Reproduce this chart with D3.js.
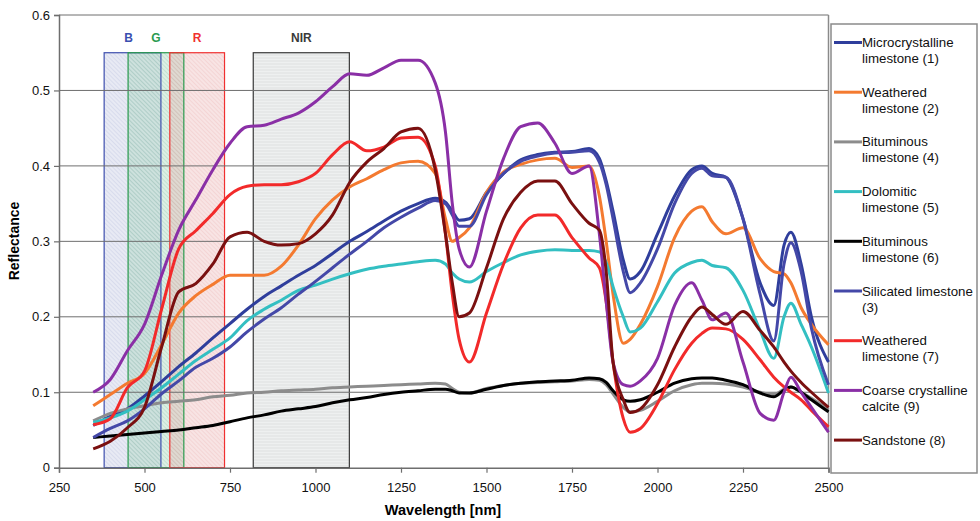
<!DOCTYPE html>
<html>
<head>
<meta charset="utf-8">
<script src="https://cdn.jsdelivr.net/npm/d3@7"></script>
<style>
  body { margin: 0; background: #fff; }
  text { font-family: "Liberation Sans", Arial, sans-serif; }
</style>
</head>
<body>
<div id="chart"></div>
<script>
const width = 980;
const height = 521;

// wavelength grid (nm)
const wavelengths = [350, 400, 450, 500, 550, 600, 650, 700, 750, 800, 850, 900, 950, 1000, 1050, 1100, 1150, 1200, 1250, 1300, 1350, 1380, 1400, 1420, 1450, 1500, 1550, 1600, 1650, 1700, 1750, 1800, 1830, 1850, 1870, 1900, 1920, 1950, 2000, 2050, 2100, 2130, 2160, 2200, 2250, 2300, 2340, 2370, 2390, 2420, 2450, 2500];

const microcrystalline1 = [0.056, 0.068, 0.078, 0.095, 0.114, 0.134, 0.152, 0.172, 0.191, 0.21, 0.227, 0.241, 0.255, 0.268, 0.284, 0.3, 0.313, 0.327, 0.34, 0.35, 0.357, 0.352, 0.34, 0.328, 0.33, 0.365, 0.39, 0.408, 0.415, 0.418, 0.419, 0.423, 0.41, 0.38, 0.34, 0.275, 0.25, 0.26, 0.31, 0.36, 0.395, 0.4, 0.39, 0.385, 0.33, 0.245, 0.215, 0.295, 0.312, 0.27, 0.2, 0.14];
const weathered2 = [0.082, 0.097, 0.112, 0.125, 0.163, 0.205, 0.228, 0.243, 0.255, 0.255, 0.255, 0.267, 0.295, 0.33, 0.355, 0.372, 0.383, 0.395, 0.404, 0.406, 0.39, 0.33, 0.3, 0.305, 0.318, 0.365, 0.392, 0.402, 0.408, 0.41, 0.398, 0.4, 0.36, 0.3, 0.23, 0.165, 0.17, 0.19, 0.24, 0.305, 0.34, 0.346, 0.326, 0.31, 0.318, 0.277, 0.26, 0.257, 0.245, 0.212, 0.19, 0.163];
const bituminous4 = [0.062, 0.072, 0.078, 0.082, 0.086, 0.088, 0.09, 0.094, 0.096, 0.099, 0.1, 0.102, 0.103, 0.104, 0.106, 0.107, 0.108, 0.109, 0.11, 0.111, 0.112, 0.111, 0.105, 0.1, 0.099, 0.105, 0.109, 0.112, 0.113, 0.114, 0.115, 0.117, 0.116, 0.11, 0.098, 0.08, 0.074, 0.076, 0.088, 0.102, 0.11, 0.112, 0.112, 0.111, 0.107, 0.1, 0.097, 0.104, 0.107, 0.1, 0.092, 0.077];
const dolomitic5 = [0.06, 0.066, 0.075, 0.09, 0.106, 0.124, 0.142, 0.157, 0.172, 0.195, 0.21, 0.222, 0.235, 0.242, 0.25, 0.257, 0.263, 0.267, 0.27, 0.273, 0.275, 0.27, 0.258, 0.25, 0.246, 0.26, 0.272, 0.282, 0.287, 0.289, 0.288, 0.288, 0.286, 0.272, 0.24, 0.2, 0.18, 0.185, 0.22, 0.258, 0.272, 0.275, 0.268, 0.265, 0.235, 0.182, 0.145, 0.2, 0.218, 0.19, 0.16, 0.099];
const bituminous6 = [0.04, 0.042, 0.044, 0.046, 0.048, 0.05, 0.053, 0.056, 0.061, 0.066, 0.07, 0.075, 0.078, 0.081, 0.086, 0.09, 0.093, 0.097, 0.1, 0.102, 0.104, 0.104, 0.102, 0.099, 0.099, 0.104, 0.109, 0.112, 0.114, 0.115, 0.116, 0.119, 0.118, 0.113, 0.102, 0.09, 0.088, 0.09, 0.1, 0.112, 0.118, 0.119, 0.119, 0.116, 0.11, 0.099, 0.094, 0.103, 0.107, 0.1, 0.09, 0.074];
const silicated3 = [0.04, 0.052, 0.062, 0.078, 0.098, 0.115, 0.133, 0.145, 0.16, 0.18, 0.197, 0.212, 0.23, 0.247, 0.265, 0.283, 0.3, 0.318, 0.332, 0.344, 0.354, 0.35, 0.335, 0.32, 0.32, 0.362, 0.39, 0.406, 0.413, 0.417, 0.418, 0.42, 0.405, 0.375, 0.33, 0.26, 0.232, 0.245, 0.29, 0.35, 0.39, 0.397, 0.387, 0.385, 0.33, 0.23, 0.168, 0.27, 0.298, 0.26, 0.185, 0.11];
const weathered7 = [0.057, 0.065, 0.106, 0.128, 0.21, 0.29, 0.314, 0.337, 0.362, 0.373, 0.375, 0.375, 0.379, 0.39, 0.415, 0.432, 0.42, 0.425, 0.437, 0.438, 0.4, 0.31, 0.23, 0.17, 0.14, 0.205, 0.27, 0.318, 0.335, 0.335, 0.305, 0.278, 0.265, 0.22, 0.14, 0.065, 0.047, 0.052, 0.085, 0.13, 0.165, 0.178, 0.185, 0.184, 0.17, 0.143, 0.12, 0.107, 0.1, 0.09, 0.076, 0.054];
const coarseCalcite9 = [0.1, 0.117, 0.155, 0.19, 0.255, 0.315, 0.355, 0.395, 0.43, 0.452, 0.454, 0.462, 0.47, 0.485, 0.505, 0.522, 0.52, 0.53, 0.54, 0.54, 0.51, 0.445, 0.35, 0.29, 0.266, 0.34, 0.41, 0.452, 0.457, 0.43, 0.39, 0.4, 0.31, 0.22, 0.14, 0.11, 0.108, 0.115, 0.145, 0.215, 0.245, 0.222, 0.196, 0.205, 0.14, 0.072, 0.063, 0.1, 0.12, 0.1, 0.08, 0.047];
const sandstone8 = [0.025, 0.035, 0.053, 0.08, 0.16, 0.233, 0.244, 0.27, 0.306, 0.312, 0.3, 0.295, 0.297, 0.31, 0.335, 0.378, 0.405, 0.423, 0.445, 0.45, 0.395, 0.31, 0.245, 0.2, 0.205, 0.265, 0.33, 0.365, 0.38, 0.38, 0.35, 0.324, 0.315, 0.26, 0.14, 0.09, 0.073, 0.078, 0.11, 0.16, 0.2, 0.213, 0.203, 0.19, 0.207, 0.182, 0.16, 0.14, 0.128, 0.113, 0.1, 0.08];

const seriesValues = [microcrystalline1, weathered2, bituminous4, dolomitic5, bituminous6, silicated3, weathered7, coarseCalcite9, sandstone8];
const seriesLabels = [
	["Microcrystalline", "limestone (1)"],
	["Weathered", "limestone (2)"],
	["Bituminous", "limestone (4)"],
	["Dolomitic", "limestone (5)"],
	["Bituminous", "limestone (6)"],
	["Silicated limestone", "(3)"],
	["Weathered", "limestone (7)"],
	["Coarse crystalline", "calcite (9)"],
	["Sandstone (8)"]
];
const seriesColors = ["#2f3e9c", "#f47a30", "#8c8c8c", "#33bfc2", "#000000", "#4448a8", "#f22a2a", "#8a2fa6", "#7a1010"];

// sensor bands
const bandNames = ["B", "G", "R", "NIR"];
const bandStart = [382, 452, 574, 818];
const bandEnd = [548, 615, 734, 1099];
const bandTop = 0.55;

const xTicks = [250, 500, 750, 1000, 1250, 1500, 1750, 2000, 2250, 2500];
const yTicks = [0, 0.1, 0.2, 0.3, 0.4, 0.5, 0.6];

const svg = d3.select("#chart")
	.append("svg")
	.attr("width", width)
	.attr("height", height);

const x = d3.scaleLinear().domain([250, 2500]).range([59, 828.5]);
const y = d3.scaleLinear().domain([0, 0.6]).range([467.7, 15]);

// patterns for the band boxes
const defs = svg.append("defs");
const bandFill = ["#bdc3df", "#9bd1b2", "#e8a5a5", "#eceeee"];
const bandFillOpacity = [0.35, 0.35, 0.3, 0.9];
const bandStroke = ["#3e4fae", "#2a9a4e", "#f03030", "#3a3a3a"];
const bandLabelColor = ["#3a4fb0", "#2a9a50", "#f03030", "#3a3a3a"];
const hatchColor = ["#9aa2cf", "#6aa88a", "#e09a9a", "#d2d5d5"];

bandNames.forEach((name, i) => {
	const p = defs.append("pattern")
		.attr("id", "hatch" + i)
		.attr("patternUnits", "userSpaceOnUse")
		.attr("width", name === "NIR" ? 6 : 3)
		.attr("height", 3);
	if (name === "NIR") {
		p.append("line").attr("x1", 0).attr("y1", 1).attr("x2", 6).attr("y2", 1)
			.attr("stroke", hatchColor[i]).attr("stroke-width", 0.6);
	} else {
		p.attr("patternTransform", "rotate(-45)");
		p.append("line").attr("x1", 0).attr("y1", 0).attr("x2", 0).attr("y2", 3)
			.attr("stroke", hatchColor[i]).attr("stroke-width", 0.7).attr("stroke-opacity", 0.6);
	}
});

const bands = svg.append("g").attr("id", "bands");
bandNames.forEach((name, i) => {
	const bx = x(bandStart[i]);
	const bw = x(bandEnd[i]) - x(bandStart[i]);
	const by = y(bandTop);
	const bh = y(0) - y(bandTop);
	bands.append("rect")
		.attr("x", bx).attr("y", by).attr("width", bw).attr("height", bh)
		.attr("fill", bandFill[i]).attr("fill-opacity", bandFillOpacity[i]);
	bands.append("rect")
		.attr("x", bx).attr("y", by).attr("width", bw).attr("height", bh)
		.attr("fill", "url(#hatch" + i + ")");
});
bandNames.forEach((name, i) => {
	bands.append("rect")
		.attr("x", x(bandStart[i])).attr("y", y(bandTop))
		.attr("width", x(bandEnd[i]) - x(bandStart[i]))
		.attr("height", y(0) - y(bandTop))
		.attr("fill", "none")
		.attr("stroke", bandStroke[i])
		.attr("stroke-width", 1.2);
	bands.append("text")
		.attr("x", x((bandStart[i] + bandEnd[i]) / 2) - (name === "B" ? 4 : 0))
		.attr("y", 42)
		.attr("text-anchor", "middle")
		.attr("font-size", 12)
		.attr("font-weight", "bold")
		.attr("fill", bandLabelColor[i])
		.text(name);
});

// gridlines
svg.append("g")
	.selectAll("line")
	.data(yTicks.slice(1))
	.enter()
	.append("line")
	.attr("x1", x(250)).attr("x2", x(2500))
	.attr("y1", (d) => y(d)).attr("y2", (d) => y(d))
	.attr("stroke", "#6e6e6e")
	.attr("stroke-width", 1);

// right border of plot area
svg.append("line")
	.attr("x1", x(2500)).attr("x2", x(2500))
	.attr("y1", y(0.6)).attr("y2", y(0))
	.attr("stroke", "#8a8a8a").attr("stroke-width", 1.5);

// curves
const line = d3.line()
	.x((d, i) => x(wavelengths[i]))
	.y((d) => y(d))
	.curve(d3.curveMonotoneX);

svg.append("g")
	.selectAll("path")
	.data(seriesValues)
	.enter()
	.append("path")
	.attr("d", line)
	.attr("fill", "none")
	.attr("stroke", (d, i) => seriesColors[i])
	.attr("stroke-width", 3)
	.attr("stroke-linejoin", "round");

// axes
const xAxis = svg.append("g")
	.attr("transform", `translate(0, ${y(0)})`)
	.call(d3.axisBottom(x).tickValues(xTicks).tickSize(5).tickPadding(10).tickFormat(d3.format("d")));
const yAxis = svg.append("g")
	.attr("transform", `translate(${x(250)}, 0)`)
	.call(d3.axisLeft(y).tickValues(yTicks).tickSize(5).tickPadding(4).tickFormat((d) => d === 0 ? "0" : d3.format(".1f")(d)));

[xAxis, yAxis].forEach((a) => {
	a.select(".domain").attr("stroke", "#6e6e6e").attr("stroke-width", 1.5);
	a.selectAll(".tick line").attr("stroke", "#6e6e6e").attr("stroke-width", 1.2);
	a.selectAll("text").attr("font-size", 13).attr("fill", "#111")
		.attr("font-family", "'Liberation Sans', Arial, sans-serif");
});

svg.append("text")
	.attr("x", 443).attr("y", 515)
	.attr("text-anchor", "middle")
	.attr("font-size", 14.5).attr("font-weight", "bold")
	.text("Wavelength [nm]");

svg.append("text")
	.attr("transform", "translate(19, 241) rotate(-90)")
	.attr("text-anchor", "middle")
	.attr("font-size", 14).attr("font-weight", "bold")
	.text("Reflectance");

// legend
const legend = svg.append("g").attr("id", "legend");
legend.append("rect")
	.attr("x", 831).attr("y", 24).attr("width", 146).attr("height", 449)
	.attr("fill", "#fff")
	.attr("stroke", "#8a8a8a").attr("stroke-width", 1.5);

seriesLabels.forEach((lines, i) => {
	const ly = 42.5 + i * 49.7;
	legend.append("line")
		.attr("x1", 834).attr("x2", 862)
		.attr("y1", ly).attr("y2", ly)
		.attr("stroke", seriesColors[i])
		.attr("stroke-width", 3);
	lines.forEach((t, j) => {
		legend.append("text")
			.attr("x", 862).attr("y", ly + 4.5 + j * 16)
			.attr("font-size", 13.3).attr("fill", "#111")
			.text(t);
	});
});
</script>
</body>
</html>
